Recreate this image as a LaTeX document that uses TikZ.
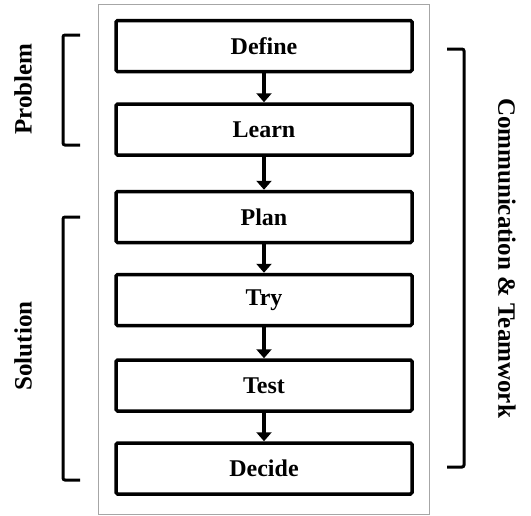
\documentclass[tikz,border=0pt]{standalone}
\usepackage{fontspec}
\setmainfont{Liberation Serif}
\usetikzlibrary{arrows.meta}
\begin{document}
\begin{tikzpicture}[x=1pt,y=-1pt,
  stepbox/.style={draw=black,line width=3.5pt,rounded corners=1.5pt,minimum width=296pt,minimum height=51pt,inner sep=0pt,font=\fontsize{24}{28}\selectfont\bfseries},
  arr/.style={line width=4pt,-{Triangle[width=15pt,length=9pt]}},
  brk/.style={line width=3pt,rounded corners=2pt},
  lbl/.style={font=\fontsize{25}{29}\selectfont\bfseries,inner sep=0pt}]
\useasboundingbox (0,0) rectangle (531,515);
\fill[white] (0,0) rectangle (531,515);
\draw[gray!70,line width=1pt] (98,4) rectangle (429,514);
\node[stepbox] (define) at (264,46) {Define};
\node[stepbox] (learn) at (264,129.5) {Learn};
\node[stepbox] (plan) at (264,217) {Plan};
\node[stepbox] (try) at (264,300) {Try};
\node[stepbox] (test) at (264,385.5) {Test};
\node[stepbox] (decide) at (264,468.5) {Decide};
\draw[arr] (define.south) -- (learn.north);
\draw[arr] (learn.south) -- (plan.north);
\draw[arr] (plan.south) -- (try.north);
\draw[arr] (try.south) -- (test.north);
\draw[arr] (test.south) -- (decide.north);
\draw[brk] (80,35) -- (63,35) -- (63,145) -- (80,145);
\draw[brk] (80,217) -- (63,217) -- (63,480) -- (80,480);
\draw[brk] (447,49) -- (464,49) -- (464,467) -- (447,467);
\node[lbl,rotate=90] (problem) at (23,89) {Problem};
\node[lbl,rotate=90] (solution) at (23,346) {Solution};
\node[lbl,rotate=-90] (comm) at (507,258) {Communication \& Teamwork};
\end{tikzpicture}
\end{document}
